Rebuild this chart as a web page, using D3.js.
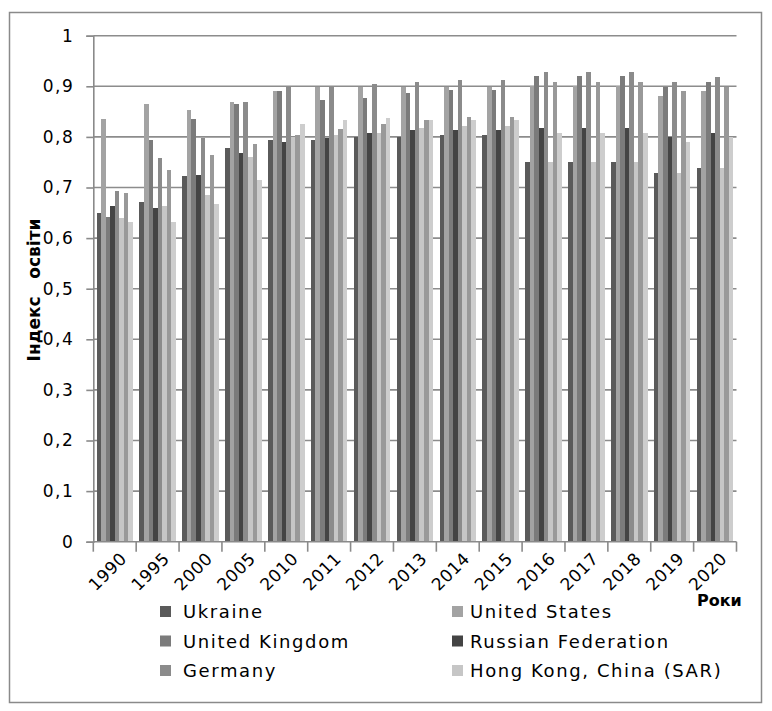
<!DOCTYPE html>
<html>
<head>
<meta charset="utf-8">
<script src="https://cdn.jsdelivr.net/npm/d3@7/dist/d3.min.js"></script>
<style>
	body { margin: 0; background: #fff; }
	text { font-family: "DejaVu Sans", sans-serif; fill: #000; }
</style>
</head>
<body>
<script>
// years on the x axis
var years = ["1990","1995","2000","2005","2010","2011","2012","2013","2014","2015","2016","2017","2018","2019","2020"];

// education index by country (8 series drawn, the legend only shows the first 6)
var ukraine  = [0.650,0.671,0.722,0.779,0.793,0.793,0.799,0.800,0.804,0.804,0.750,0.750,0.750,0.728,0.739];
var usa      = [0.836,0.865,0.854,0.869,0.890,0.898,0.898,0.898,0.898,0.898,0.900,0.900,0.900,0.880,0.890];
var uk       = [0.642,0.793,0.836,0.865,0.890,0.873,0.876,0.887,0.893,0.893,0.920,0.920,0.920,0.898,0.908];
var russia   = [0.663,0.660,0.725,0.768,0.790,0.797,0.807,0.814,0.814,0.814,0.818,0.818,0.818,0.800,0.807];
var germany  = [0.693,0.758,0.798,0.869,0.898,0.898,0.905,0.908,0.912,0.912,0.929,0.929,0.929,0.908,0.918];
var hongkong = [0.639,0.664,0.686,0.761,0.799,0.803,0.808,0.818,0.822,0.822,0.750,0.750,0.750,0.729,0.739];
var seriesG  = [0.690,0.735,0.764,0.786,0.804,0.816,0.825,0.833,0.840,0.840,0.908,0.908,0.908,0.890,0.898];
var seriesH  = [0.632,0.632,0.668,0.714,0.825,0.833,0.837,0.833,0.833,0.833,0.807,0.807,0.807,0.790,0.800];

var legendNames = ["Ukraine","United States","United Kingdom","Russian Federation","Germany","Hong Kong, China (SAR)"];
var yTicks = [0,0.1,0.2,0.3,0.4,0.5,0.6,0.7,0.8,0.9,1];

var allSeries = [ukraine, usa, uk, russia, germany, hongkong, seriesG, seriesH];
var colors = ["#5a5a5a","#a3a3a3","#7b7b7b","#444444","#8b8b8b","#c6c6c6","#999999","#cdcdcd"];

var w = 772;
var h = 711;
var plotL = 93.3, plotR = 736.5, plotT = 35.7, plotB = 541.7;

var svg = d3.select("body")
			.append("svg")
			.attr("width",w)
			.attr("height",h);

// outer chart border
svg.append("rect")
	.attr("x",9.5)
	.attr("y",12.5)
	.attr("width",752)
	.attr("height",690)
	.attr("fill","none")
	.attr("stroke","#8a8a8a")
	.attr("stroke-width",1.5);

var xScale = d3.scaleBand()
				.domain(years)
				.range([plotL, plotR]);

var xInner = d3.scaleBand()
				.domain(d3.range(allSeries.length))
				.range([3.2, xScale.bandwidth() - 3.2]);

var yScale = d3.scaleLinear()
				.domain([0,1])
				.range([plotB, plotT]);

// grid lines
svg.selectAll(".grid")
	.data(yTicks.slice(1))
	.enter()
	.append("line")
	.attr("class","grid")
	.attr("x1",plotL)
	.attr("x2",plotR)
	.attr("y1",function(d){return yScale(d);})
	.attr("y2",function(d){return yScale(d);})
	.attr("stroke","#8c8c8c")
	.attr("stroke-width",1.6);

// bars
var groups = svg.selectAll(".year")
	.data(years)
	.enter()
	.append("g")
	.attr("class","year")
	.attr("transform",function(d){return "translate("+xScale(d)+",0)";});

groups.selectAll("rect")
	.data(function(d,i){return allSeries.map(function(s,k){return {k:k, v:s[i]};});})
	.enter()
	.append("rect")
	.attr("x",function(d){return xInner(d.k);})
	.attr("width",xInner.bandwidth())
	.attr("y",function(d){return yScale(d.v);})
	.attr("height",function(d){return plotB - yScale(d.v);})
	.attr("fill",function(d){return colors[d.k];})
	.attr("shape-rendering","crispEdges");

// y axis
var yAxis = d3.axisLeft()
				.scale(yScale)
				.tickValues(yTicks)
				.tickSize(7)
				.tickPadding(12)
				.tickFormat(function(d){return String(d).replace(".",",");});

var gy = svg.append("g")
	.attr("transform","translate("+plotL+",0)")
	.call(yAxis);
gy.selectAll("line, path").attr("stroke","#8a8a8a").attr("stroke-width",1.6);
gy.selectAll("text").attr("font-size",17).attr("letter-spacing",1.5).attr("fill","#222");

// x axis: ticks between the categories
var boundaries = years.map(function(d){return xScale(d);}).concat([plotR]);
svg.append("line")
	.attr("x1",plotL).attr("x2",plotR)
	.attr("y1",plotB).attr("y2",plotB)
	.attr("stroke","#8a8a8a").attr("stroke-width",1.6);
svg.selectAll(".xtick")
	.data(boundaries)
	.enter()
	.append("line")
	.attr("class","xtick")
	.attr("x1",function(d){return d;}).attr("x2",function(d){return d;})
	.attr("y1",plotB).attr("y2",plotB+10)
	.attr("stroke","#8a8a8a").attr("stroke-width",1.6);

svg.selectAll(".xlabel")
	.data(years)
	.enter()
	.append("text")
	.attr("class","xlabel")
	.text(function(d){return d;})
	.attr("text-anchor","end")
	.attr("font-size",17)
	.attr("letter-spacing",0.5)
	.attr("fill","#222")
	.attr("transform",function(d){
		var cx = xScale(d) + xScale.bandwidth()/2 + 13;
		return "translate("+cx+","+(plotB+18)+") rotate(-45)";
	});

// axis titles
svg.append("text")
	.attr("x",697)
	.attr("y",606)
	.text("Роки")
	.attr("font-size",16)
	.attr("font-weight","bold");

svg.append("text")
	.attr("transform","translate(40,290) rotate(-90)")
	.attr("text-anchor","middle")
	.attr("font-size",17)
	.attr("font-weight","bold")
	.style("white-space","pre")
	.text("Індекс   освіти");

// legend, two columns
var legend = svg.selectAll(".legend")
	.data(legendNames)
	.enter()
	.append("g")
	.attr("class","legend")
	.attr("transform",function(d,i){
		var lx = (i % 2 == 0) ? 160 : 452;
		var ly = 606 + Math.floor(i/2)*29.5;
		return "translate("+lx+","+ly+")";
	});

legend.append("rect")
	.attr("width",11)
	.attr("height",11)
	.attr("fill",function(d,i){return colors[i];});

legend.append("text")
	.attr("x",function(d,i){return (i % 2 == 0) ? 23 : 18;})
	.attr("y",12)
	.text(function(d){return d;})
	.attr("font-size",18)
	.attr("letter-spacing",1.6)
	.attr("fill","#222");
</script>
</body>
</html>
